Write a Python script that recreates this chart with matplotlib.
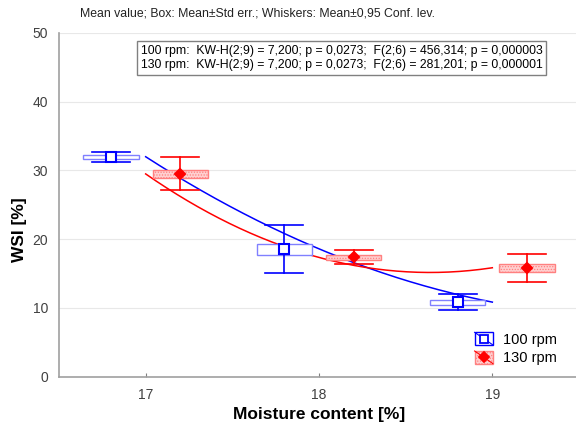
import numpy as np
import matplotlib
matplotlib.use("Agg")
import matplotlib.pyplot as plt
from matplotlib.patches import Rectangle
from matplotlib.lines import Line2D
from matplotlib.legend_handler import HandlerBase

plt.rcParams['font.family'] = ['Liberation Sans', 'DejaVu Sans']

moisture = [17, 18, 19]
series_names = ["100 rpm", "130 rpm"]
mean_100 = [32.0, 18.6, 10.85]
se_lo_100 = [31.7, 17.7, 10.4]
se_hi_100 = [32.3, 19.3, 11.2]
ci_lo_100 = [31.3, 15.1, 9.7]
ci_hi_100 = [32.7, 22.1, 12.0]
mean_130 = [29.5, 17.35, 15.85]
se_lo_130 = [28.9, 17.0, 15.3]
se_hi_130 = [30.1, 17.7, 16.4]
ci_lo_130 = [27.1, 16.4, 13.8]
ci_hi_130 = [31.9, 18.5, 17.9]
title_text = "Mean value; Box: Mean\u00b1Std err.; Whiskers: Mean\u00b10,95 Conf. lev."
stats_text = ("100 rpm:  KW-H(2;9) = 7,200; p = 0,0273;  F(2;6) = 456,314; p = 0,000003\n"
              "130 rpm:  KW-H(2;9) = 7,200; p = 0,0273;  F(2;6) = 281,201; p = 0,000001")

fig = plt.figure(figsize=(5.76, 4.32), dpi=100)
ax = fig.add_axes([59/576, 1-376.7/432, 520/576, (376.7-33)/432])

offset = 0.2
box_w = 0.32
cap_w = 0.22

BLUE = '#0000ff'
BLUE_BOX = '#8080ff'
RED = '#ff0000'
RED_BOX = '#ff8080'
RED_FILL = '#ffd0d0'

def draw_group(xs, mean, selo, sehi, cilo, cihi, color, boxedge, fill, hatch, marker, mfc):
    for x, m, sl, sh, cl, ch in zip(xs, mean, selo, sehi, cilo, cihi):
        ax.add_patch(Rectangle((x - box_w/2, sl), box_w, sh - sl, facecolor=fill,
                               edgecolor=boxedge, hatch=hatch, lw=1.0, zorder=3))
        ax.plot([x, x], [cl, ch], color=color, lw=1.2, zorder=4)
        ax.plot([x - cap_w/2, x + cap_w/2], [cl, cl], color=color, lw=1.2, zorder=4)
        ax.plot([x - cap_w/2, x + cap_w/2], [ch, ch], color=color, lw=1.2, zorder=4)
    ax.plot(xs, mean, ls='none', marker=marker, ms=7 if marker == 's' else 5.5,
            mfc=mfc, mec=color, mew=1.5, zorder=5)

x100 = [m - offset for m in moisture]
x130 = [m + offset for m in moisture]

plt.rcParams['hatch.linewidth'] = 0.6
draw_group(x100, mean_100, se_lo_100, se_hi_100, ci_lo_100, ci_hi_100,
           BLUE, BLUE_BOX, 'white', None, 's', 'white')
draw_group(x130, mean_130, se_lo_130, se_hi_130, ci_lo_130, ci_hi_130,
           RED, RED_BOX, RED_FILL, '......', 'D', RED)

# quadratic fits through the data
xf = np.linspace(moisture[0], moisture[-1], 200)
for mean, col in [(mean_100, BLUE), (mean_130, RED)]:
    c = np.polyfit(moisture, mean, 2)
    ax.plot(xf, np.polyval(c, xf), color=col, lw=1.1, zorder=2)

ax.set_xlim(16.5, 19.5)
ax.set_ylim(0, 50)
ax.set_xticks(moisture)
ax.set_yticks([0, 10, 20, 30, 40, 50])
ax.yaxis.grid(True, color='#e8e8e8', lw=0.8)
ax.set_axisbelow(True)
for s in ['top', 'right']:
    ax.spines[s].set_visible(False)
for s in ['left', 'bottom']:
    ax.spines[s].set_color('#a0a0a0')
    ax.spines[s].set_linewidth(1.2)
ax.tick_params(axis='both', direction='in', length=3, color='#808080',
               labelsize=10, labelcolor='#404040')
ax.tick_params(axis='y', length=0, pad=8)
ax.tick_params(axis='x', pad=8)

ax.set_xlabel("Moisture content [%]", fontsize=12.5, fontweight='bold', labelpad=4)
ax.set_ylabel("WSI [%]", fontsize=12.5, fontweight='bold')
ax.yaxis.set_label_coords(-0.062, 0.427)

fig.text(258/576, 1-13/432, title_text, ha='center', va='center', fontsize=8.8, color='#222222')

ax.text(0.544, 0.966, stats_text, transform=ax.transAxes, ha='center', va='top',
        fontsize=8.8, linespacing=1.25,
        bbox=dict(boxstyle='square,pad=0.3', facecolor='white', edgecolor='#808080', lw=1.0))

class BoxMarkerHandler(HandlerBase):
    def __init__(self, edge, fill, hatch, color, marker, mfc):
        super().__init__()
        self.edge, self.fill, self.hatch = edge, fill, hatch
        self.color, self.marker, self.mfc = color, marker, mfc
    def create_artists(self, legend, orig_handle, xdescent, ydescent, width, height, fontsize, trans):
        r = Rectangle((-xdescent, -ydescent), width, height, facecolor=self.fill,
                      edgecolor=self.edge, hatch=self.hatch, lw=1.0, transform=trans)
        d = Line2D([-xdescent, -xdescent + width], [-ydescent + height, -ydescent],
                   color=self.color, lw=0.8, transform=trans)
        m = Line2D([-xdescent + width/2], [-ydescent + height/2], ls='none', marker=self.marker,
                   ms=6 if self.marker == 's' else 5, mfc=self.mfc, mec=self.color, mew=1.3,
                   transform=trans)
        return [r, d, m]

h100 = Rectangle((0, 0), 1, 1)
h130 = Rectangle((0, 0), 1, 1)
ax.legend([h100, h130], series_names, loc='lower right', bbox_to_anchor=(0.983, -0.005),
          frameon=False, fontsize=10.5, handlelength=1.25, handleheight=0.95,
          handletextpad=0.7, labelspacing=0.3,
          handler_map={h100: BoxMarkerHandler(BLUE, 'white', None, BLUE, 's', 'white'),
                       h130: BoxMarkerHandler(RED_BOX, RED_FILL, '......', RED, 'D', RED)})

fig.savefig("out.png", dpi=100)
